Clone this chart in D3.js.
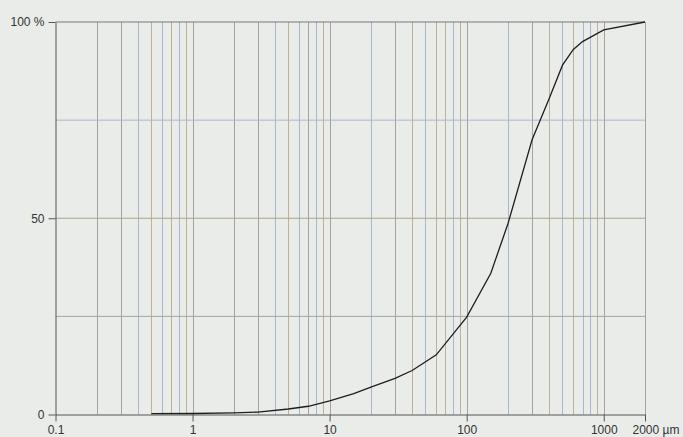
<!DOCTYPE html>
<html lang="en">
<head>
    <meta charset="UTF-8">
    <title>Particle size distribution</title>
    <script src="https://d3js.org/d3.v7.min.js"></script>
    <style>
        body { margin: 0; background: #eaecea; }
        svg { display: block; }
        .axis text {
            fill: #333;
            font-size: 12px;
            font-family: 'Liberation Sans', Arial, sans-serif;
        }
        .axis path, .axis line { stroke: #555; }
    </style>
</head>
<body>
<svg height="437" width="683"></svg>
<script>
    // sieve sizes (µm) and cumulative passing (%)
    const sizes  = [0.5, 1, 2, 3, 5, 7, 10, 15, 20, 30, 40, 60, 100, 150, 200, 300, 400, 500, 600, 700, 1000, 2000];
    const passed = [0.2, 0.25, 0.4, 0.6, 1.4, 2.1, 3.5, 5.3, 7.0, 9.2, 11.2, 15.2, 24.8, 36, 48.6, 70, 80.5, 89, 93, 95, 98, 100];

    // vertical grid lines, grouped as they are coloured in the original
    const gridGray = [0.2, 0.3, 1, 2, 3, 7, 10, 30, 100, 300, 1000, 2000];
    const gridBlue = [0.4, 0.6, 0.8, 4, 6, 8, 20, 50, 80, 200, 500, 700, 800];
    const gridTan  = [0.5, 0.7, 0.9, 5, 9, 40, 60, 70, 90, 400, 600, 900];

    const xTicks = [0.1, 1, 10, 100, 1000, 2000];
    const yTicks = [0, 50, 100];
    const yGrid = [25, 50, 75];

    const svg = d3.select("svg");
    const x = d3.scaleLog().domain([0.1, 2000]).range([55.5, 645]);
    const y = d3.scaleLinear().domain([0, 100]).range([414.5, 22]);

    function vlines(vals, color) {
        svg.append("g").selectAll("line").data(vals).enter().append("line")
            .attr("x1", d => Math.round(x(d)) + 0.5).attr("x2", d => Math.round(x(d)) + 0.5)
            .attr("y1", y(100)).attr("y2", y(0))
            .attr("stroke", color).attr("stroke-width", 1);
    }
    vlines(gridGray, "#a3a3a0");
    vlines(gridBlue, "#a6b8ca");
    vlines(gridTan, "#bdb196");

    const hColors = {25: "#a0a5a5", 50: "#aca487", 75: "#a8b6c4"};
    svg.append("g").selectAll("line").data(yGrid).enter().append("line")
        .attr("x1", x(0.1)).attr("x2", x(2000))
        .attr("y1", d => y(d)).attr("y2", d => y(d))
        .attr("stroke", d => hColors[d]);

    // top border
    svg.append("line").attr("x1", x(0.1)).attr("x2", x(2000))
        .attr("y1", y(100)).attr("y2", y(100)).attr("stroke", "#777");

    const gx = svg.append("g").attr("class", "axis")
        .attr("transform", `translate(0,${y(0)})`)
        .call(d3.axisBottom(x).tickValues(xTicks).tickFormat(d => d)
            .tickSize(7).tickPadding(4).tickSizeOuter(0));
    gx.selectAll(".tick").filter(d => d === 2000).select("text")
        .attr("text-anchor", "start").attr("dx", -13).text("2000 µm");

    svg.append("g").attr("class", "axis")
        .attr("transform", `translate(${x(0.1)},0)`)
        .call(d3.axisLeft(y).tickValues(yTicks).tickFormat(d => d === 100 ? "100 %" : d)
            .tickSize(7).tickPadding(4).tickSizeOuter(0));

    const line = d3.line().x((d, i) => x(sizes[i])).y(d => y(d));
    svg.append("path").datum(passed)
        .attr("fill", "none").attr("stroke", "#1e1e1e").attr("stroke-width", 1.3)
        .attr("d", line);
</script>
</body>
</html>
